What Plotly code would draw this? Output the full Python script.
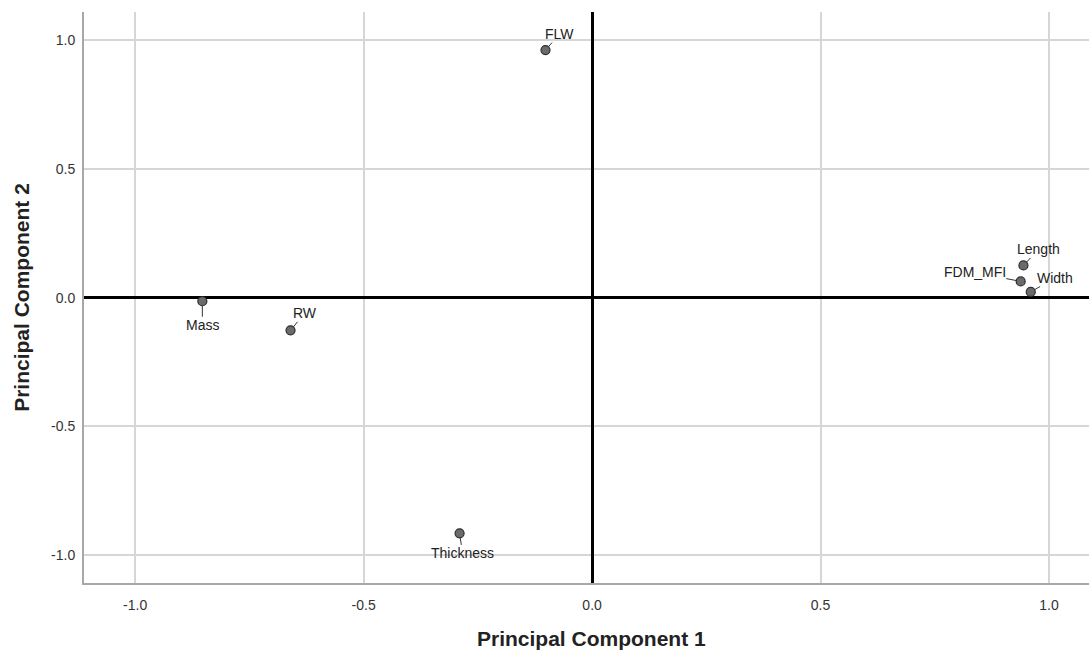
import plotly.graph_objects as go

# Component loadings for each variable
variables = ["FLW", "Length", "FDM_MFI", "Width", "Mass", "RW", "Thickness"]
pc1 = [-0.102, 0.944, 0.938, 0.960, -0.853, -0.660, -0.290]
pc2 = [0.962, 0.125, 0.063, 0.022, -0.014, -0.127, -0.916]

# Label offsets (pixels) relative to each point
label_dx = [14, 15, -46, 24, 0, 14, 3]
label_dy = [-16, -16, -9, -14, 24, -17, 20]

tick_vals = [-1.0, -0.5, 0.0, 0.5, 1.0]
tick_text = ["-1.0", "-0.5", "0.0", "0.5", "1.0"]

font_family = "Liberation Sans, Arial, sans-serif"

fig = go.Figure()

fig.add_trace(go.Scatter(
    x=pc1, y=pc2, mode="markers",
    marker=dict(size=9, color="#6b6b6b", line=dict(color="#2e2e2e", width=1.2)),
    hovertext=variables, hoverinfo="text", showlegend=False,
))

for name, x, y, dx, dy in zip(variables, pc1, pc2, label_dx, label_dy):
    fig.add_annotation(
        x=x, y=y, xref="x", yref="y", text=name,
        showarrow=True, arrowhead=0, arrowwidth=1, arrowcolor="#333333",
        ax=dx, ay=dy, standoff=4, startstandoff=0,
        font=dict(family=font_family, size=14, color="#222222"),
        borderpad=0,
    )

# Horizontal axis title, centred under the origin line
fig.add_annotation(
    x=0.5, y=0, xref="paper", yref="paper", xshift=5, yshift=-42,
    xanchor="center", yanchor="top", showarrow=False,
    text="<b>Principal Component 1</b>",
    font=dict(family=font_family, size=21, color="#222222"),
)

axis_common = dict(
    tickvals=tick_vals, ticktext=tick_text,
    showgrid=True, gridcolor="#d6d6d6", gridwidth=1.5,
    zeroline=True, zerolinecolor="black", zerolinewidth=3,
    showline=True, linecolor="#a8a8a8", linewidth=2,
    ticks="", tickfont=dict(size=14, color="#333333"),
)

fig.update_layout(
    width=1089, height=651,
    margin=dict(l=84, r=0, t=12, b=68),
    paper_bgcolor="white", plot_bgcolor="white",
    font=dict(family=font_family, color="#333333"),
    xaxis=dict(
        range=[-1.112, 1.0875], ticklabelstandoff=8,
        **axis_common,
    ),
    yaxis=dict(
        range=[-1.109, 1.110], ticklabelstandoff=4,
        title=dict(text="<b>Principal Component 2</b>", standoff=16,
                   font=dict(size=21, color="#222222")),
        **axis_common,
    ),
)

fig.write_html("out.html")
